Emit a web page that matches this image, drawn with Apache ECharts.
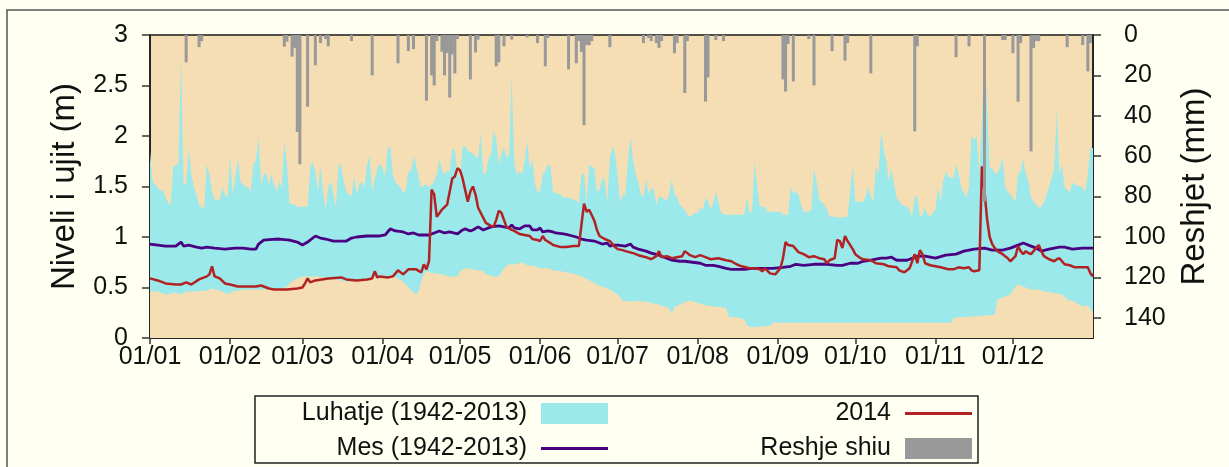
<!DOCTYPE html>
<html>
<head>
<meta charset="utf-8">
<script src="https://cdn.jsdelivr.net/npm/echarts@6/dist/echarts.min.js"></script>
<style>
html, body { margin: 0; padding: 0; background: #fffff2; }
#chart { width: 1229px; height: 467px; }
</style>
</head>
<body>
<div id="chart"></div>
<script>
// day of year (0 = 01/01) and value
var monthDays = [31, 28, 31, 30, 31, 30, 31, 31, 30, 31, 30, 31];

// upper edge of the 1942-2013 range (m)
var bandHigh = [[0,1.85],[1,1.55],[2,1.52],[3,1.49],[4,1.45],[5,1.47],[6,1.39],[7,1.34],[8,1.32],[9,1.70],[10,1.71],[11,1.72],[12,2.77],[13,1.52],[14,1.52],[15,1.88],[16,1.62],[17,1.49],[18,1.42],[19,1.32],[20,1.29],[21,1.29],[22,1.72],[23,1.62],[24,1.45],[25,1.37],[26,1.37],[27,1.37],[28,1.49],[29,1.42],[30,1.39],[31,1.80],[32,1.42],[33,1.58],[34,1.78],[35,1.55],[36,1.52],[37,1.50],[38,1.49],[39,1.45],[40,1.72],[41,1.75],[42,2.00],[43,1.52],[44,1.62],[45,1.63],[46,1.52],[47,1.62],[48,1.52],[49,1.45],[50,1.55],[51,1.49],[52,1.96],[53,1.72],[54,1.34],[55,1.32],[56,1.32],[57,1.30],[58,1.30],[59,1.30],[60,1.30],[61,1.30],[62,1.68],[63,1.75],[64,1.65],[65,1.45],[66,1.70],[67,1.45],[68,1.27],[69,1.50],[70,1.55],[71,1.42],[72,1.29],[73,1.73],[74,1.70],[75,1.55],[76,1.45],[77,1.42],[78,1.40],[79,1.60],[80,1.42],[81,1.52],[82,1.55],[83,1.49],[84,1.72],[85,1.80],[86,1.45],[87,1.57],[88,1.68],[89,1.73],[90,1.68],[91,1.60],[92,1.88],[93,1.90],[94,1.62],[95,1.54],[96,1.52],[97,1.49],[98,1.44],[99,1.46],[100,1.65],[101,1.65],[102,1.80],[103,1.72],[104,1.58],[105,1.49],[106,1.51],[107,1.52],[108,1.49],[109,1.52],[110,1.55],[111,1.62],[112,1.78],[113,1.66],[114,1.62],[115,1.65],[116,1.65],[117,1.88],[118,1.85],[119,1.65],[120,1.58],[121,1.90],[122,1.90],[123,1.85],[124,1.84],[125,1.83],[126,1.80],[127,1.78],[128,2.03],[129,1.62],[130,1.63],[131,1.78],[132,1.81],[133,2.05],[134,1.98],[135,1.72],[136,1.82],[137,1.88],[138,1.80],[139,1.80],[140,2.59],[141,1.72],[142,1.62],[143,1.65],[144,1.62],[145,1.75],[146,1.95],[147,1.68],[148,1.77],[149,1.52],[150,1.45],[151,1.45],[152,1.62],[153,1.65],[154,1.72],[155,1.70],[156,1.45],[157,1.43],[158,1.43],[159,1.42],[160,1.39],[162,1.39],[164,1.37],[166,1.34],[167,1.62],[168,1.63],[169,1.34],[170,1.72],[171,1.70],[172,1.68],[173,1.45],[174,1.47],[175,1.58],[176,1.57],[177,1.34],[178,1.78],[179,1.90],[180,1.82],[181,1.62],[182,1.34],[183,1.42],[184,1.42],[185,1.75],[186,2.00],[187,1.75],[188,1.62],[189,1.55],[190,1.42],[191,1.40],[192,1.58],[193,1.42],[194,1.49],[195,1.47],[196,1.32],[197,1.40],[198,1.39],[200,1.36],[201,1.42],[202,1.58],[203,1.42],[204,1.40],[205,1.32],[207,1.27],[208,1.22],[209,1.20],[211,1.24],[212,1.24],[213,1.29],[214,1.27],[215,1.39],[216,1.35],[217,1.27],[218,1.34],[219,1.45],[220,1.35],[221,1.24],[223,1.22],[226,1.22],[229,1.22],[230,1.22],[231,1.39],[232,1.25],[233,1.24],[234,1.75],[235,1.52],[236,1.30],[238,1.30],[239,1.25],[241,1.25],[244,1.25],[245,1.22],[247,1.22],[248,1.50],[249,1.43],[250,1.45],[251,1.42],[252,1.32],[253,1.25],[255,1.25],[256,1.27],[257,1.68],[258,1.55],[259,1.37],[260,1.35],[261,1.32],[262,1.27],[263,1.20],[265,1.20],[267,1.19],[270,1.20],[271,1.45],[272,1.70],[273,1.35],[275,1.35],[276,1.35],[277,1.40],[278,1.50],[279,1.40],[280,1.35],[281,1.70],[282,1.62],[283,2.05],[284,1.85],[285,1.75],[286,1.55],[287,1.68],[288,1.52],[289,1.39],[291,1.32],[293,1.30],[294,1.27],[295,1.20],[296,1.40],[297,1.40],[298,1.20],[299,1.22],[300,1.29],[301,1.22],[302,1.20],[304,1.27],[305,1.50],[306,1.35],[307,1.55],[308,1.65],[309,1.60],[311,1.58],[312,1.72],[313,1.62],[314,1.49],[316,1.39],[317,1.49],[318,2.01],[319,1.96],[320,1.99],[321,1.62],[322,2.15],[323,2.87],[324,2.28],[325,1.68],[326,1.68],[327,1.63],[328,1.63],[329,1.68],[330,1.80],[331,1.49],[332,1.45],[333,1.42],[335,1.35],[336,1.62],[337,1.65],[338,1.78],[339,1.62],[340,1.55],[341,1.39],[342,1.35],[344,1.29],[345,1.30],[346,1.34],[347,1.42],[349,1.58],[350,1.68],[351,2.28],[352,1.62],[353,1.72],[354,1.49],[356,1.44],[357,1.54],[358,1.52],[360,1.50],[361,1.49],[362,1.44],[363,1.62],[364,1.88],[365,1.88]];

// lower edge of the 1942-2013 range (m)
var bandLow = [[0,0.46],[3,0.46],[6,0.43],[10,0.45],[12,0.43],[14,0.46],[18,0.46],[22,0.47],[24,0.49],[28,0.46],[30,0.43],[32,0.46],[37,0.48],[44,0.48],[51,0.49],[53,0.51],[54,0.54],[56,0.58],[59,0.61],[65,0.61],[72,0.58],[76,0.56],[80,0.56],[85,0.59],[90,0.61],[94,0.61],[96,0.59],[98,0.56],[99,0.53],[100,0.50],[102,0.45],[103,0.43],[104,0.46],[105,0.56],[106,0.63],[107,0.66],[110,0.64],[113,0.63],[116,0.61],[119,0.61],[120,0.66],[122,0.69],[123,0.69],[127,0.67],[129,0.66],[130,0.63],[133,0.61],[135,0.61],[137,0.69],[139,0.73],[141,0.73],[143,0.74],[144,0.75],[146,0.72],[149,0.71],[151,0.69],[154,0.69],[156,0.67],[159,0.66],[163,0.64],[165,0.63],[168,0.60],[171,0.56],[173,0.53],[176,0.50],[178,0.48],[181,0.43],[183,0.37],[186,0.36],[189,0.37],[192,0.36],[194,0.35],[197,0.33],[199,0.31],[201,0.30],[202,0.23],[203,0.31],[205,0.33],[207,0.36],[209,0.37],[212,0.35],[214,0.33],[219,0.31],[223,0.30],[224,0.21],[228,0.20],[230,0.18],[231,0.13],[232,0.11],[235,0.11],[240,0.12],[241,0.15],[310,0.15],[311,0.20],[317,0.21],[323,0.22],[327,0.23],[328,0.38],[330,0.40],[333,0.43],[335,0.51],[336,0.53],[339,0.50],[341,0.48],[344,0.48],[346,0.46],[349,0.45],[353,0.43],[355,0.38],[358,0.36],[361,0.31],[363,0.33],[364,0.28],[365,0.25]];

// mean 1942-2013 (m)
var meanLevel = [[0,0.93],[3,0.92],[6,0.91],[10,0.91],[12,0.95],[13,0.91],[15,0.92],[18,0.90],[20,0.89],[22,0.90],[25,0.89],[29,0.88],[33,0.89],[36,0.89],[39,0.88],[41,0.88],[42,0.93],[44,0.97],[46,0.975],[50,0.98],[54,0.97],[57,0.95],[59,0.92],[61,0.95],[64,1.01],[66,0.99],[68,0.98],[71,0.96],[73,0.96],[76,0.96],[78,0.99],[80,1.00],[84,1.01],[89,1.01],[91,1.02],[93,1.08],[95,1.06],[98,1.05],[100,1.03],[102,1.04],[104,1.02],[108,1.02],[112,1.06],[114,1.04],[116,1.05],[119,1.03],[121,1.07],[122,1.08],[124,1.06],[125,1.07],[127,1.10],[129,1.07],[132,1.10],[135,1.11],[137,1.10],[139,1.09],[140,1.12],[141,1.09],[143,1.08],[145,1.11],[147,1.11],[148,1.07],[150,1.07],[151,1.09],[152,1.05],[154,1.06],[156,1.05],[157,1.04],[160,1.03],[162,1.02],[165,1.00],[167,0.98],[169,0.97],[172,0.96],[174,0.94],[175,0.93],[177,0.94],[178,0.91],[179,0.92],[181,0.92],[184,0.91],[186,0.93],[187,0.90],[189,0.88],[192,0.86],[194,0.84],[197,0.82],[200,0.79],[202,0.77],[205,0.76],[207,0.76],[210,0.75],[213,0.74],[215,0.72],[218,0.72],[220,0.71],[223,0.69],[225,0.68],[228,0.68],[230,0.68],[233,0.69],[236,0.69],[241,0.69],[245,0.70],[248,0.71],[250,0.73],[253,0.72],[257,0.73],[262,0.73],[266,0.72],[268,0.72],[271,0.74],[274,0.74],[276,0.76],[279,0.77],[281,0.78],[283,0.79],[285,0.79],[287,0.80],[289,0.77],[291,0.77],[293,0.77],[295,0.79],[297,0.81],[300,0.81],[304,0.79],[308,0.82],[312,0.83],[315,0.86],[319,0.88],[323,0.89],[326,0.87],[330,0.87],[333,0.89],[336,0.92],[338,0.94],[340,0.92],[343,0.89],[345,0.86],[348,0.88],[350,0.89],[352,0.90],[354,0.90],[357,0.88],[361,0.89],[365,0.89]];

// water level 2014 (m)
var level2014 = [[0,0.59],[3,0.57],[6,0.54],[10,0.53],[12,0.53],[14,0.55],[16,0.53],[19,0.58],[22,0.61],[23,0.63],[24,0.71],[25,0.61],[27,0.59],[29,0.54],[31,0.53],[34,0.51],[37,0.51],[41,0.51],[43,0.52],[46,0.49],[48,0.48],[53,0.48],[57,0.49],[59,0.50],[60,0.54],[61,0.59],[62,0.55],[64,0.57],[69,0.59],[74,0.60],[76,0.58],[80,0.57],[84,0.58],[86,0.59],[87,0.66],[88,0.60],[89,0.61],[92,0.60],[94,0.61],[96,0.67],[98,0.63],[100,0.68],[103,0.68],[105,0.65],[106,0.73],[107,0.68],[108,0.76],[109,1.47],[110,1.42],[111,1.20],[113,1.27],[115,1.32],[117,1.58],[118,1.60],[119,1.68],[120,1.66],[121,1.58],[123,1.35],[124,1.45],[125,1.50],[126,1.42],[127,1.29],[128,1.24],[129,1.19],[130,1.14],[132,1.11],[133,1.10],[134,1.17],[135,1.26],[136,1.24],[137,1.17],[138,1.10],[140,1.07],[141,1.06],[143,1.03],[145,1.02],[147,1.01],[148,0.98],[150,0.97],[151,0.96],[152,1.01],[153,0.97],[155,0.94],[156,0.92],[159,0.90],[161,0.90],[164,0.91],[166,0.91],[167,1.12],[168,1.33],[169,1.25],[170,1.27],[172,1.16],[173,1.07],[174,1.01],[176,0.98],[178,0.96],[179,0.93],[180,0.90],[181,0.88],[183,0.87],[184,0.86],[187,0.84],[189,0.82],[192,0.80],[194,0.78],[196,0.81],[197,0.86],[198,0.80],[200,0.81],[202,0.79],[204,0.80],[206,0.81],[207,0.86],[209,0.82],[211,0.80],[213,0.82],[215,0.80],[217,0.78],[220,0.79],[223,0.77],[225,0.76],[227,0.73],[229,0.71],[232,0.69],[234,0.69],[236,0.68],[237,0.66],[238,0.69],[240,0.64],[242,0.63],[243,0.66],[244,0.69],[245,0.79],[246,0.95],[247,0.92],[249,0.91],[251,0.85],[253,0.83],[255,0.80],[257,0.81],[259,0.79],[261,0.78],[262,0.74],[263,0.77],[264,0.78],[265,0.79],[266,0.97],[267,0.96],[268,0.89],[269,1.01],[270,0.96],[272,0.88],[273,0.83],[275,0.79],[276,0.78],[279,0.77],[281,0.74],[284,0.73],[286,0.71],[289,0.70],[290,0.67],[292,0.65],[294,0.69],[295,0.76],[296,0.83],[297,0.74],[298,0.87],[299,0.83],[300,0.74],[302,0.72],[304,0.71],[306,0.70],[309,0.68],[311,0.68],[313,0.70],[315,0.69],[317,0.70],[318,0.67],[319,0.66],[321,0.67],[322,1.70],[323,1.45],[324,1.18],[325,1.00],[326,0.93],[327,0.89],[328,0.86],[330,0.83],[332,0.79],[333,0.76],[335,0.81],[336,0.91],[337,0.86],[338,0.83],[339,0.86],[340,0.84],[341,0.83],[343,0.89],[344,0.92],[345,0.86],[346,0.81],[348,0.78],[350,0.76],[351,0.78],[352,0.79],[353,0.76],[354,0.73],[356,0.72],[358,0.70],[361,0.70],[363,0.70],[364,0.64],[365,0.61]];

// daily rainfall (mm), right axis
var rain = [[14,13.5],[19,6],[20,3],[52,5.8],[53,3.3],[55,10.7],[56,6.4],[57,48],[58,64],[61,35.5],[64,15],[66,4],[68,2],[69,5.6],[78,3],[86,20],[96,14],[100,8],[102,7],[107,32.5],[109,20],[110,25],[111,3],[113,8.3],[114,20],[115,9],[116,31],[117,9.6],[118,19],[119,2],[124,22],[126,8.6],[127,2.3],[134,15.5],[135,13.5],[137,5.6],[140,2.3],[146,1.2],[150,4],[153,15.5],[154,1.5],[162,17],[165,14],[166,3],[167,8.4],[168,44.7],[169,5],[170,5],[171,3],[178,6],[191,4],[193,1.5],[194,3],[196,4],[197,6.4],[198,3],[203,9],[204,4],[207,28.7],[208,3],[215,33],[216,21],[219,2.5],[222,3],[245,22],[246,28],[247,4.5],[249,23],[255,2],[257,25],[264,8],[269,12.7],[270,4],[279,19],[296,47.7],[297,5.6],[312,11],[317,5.6],[323,82.5],[330,2.5],[331,2.5],[334,9],[336,33],[337,4],[341,57.6],[342,6.4],[343,3],[344,3],[355,6],[361,5],[363,18],[364,4]];

var seriesNames = ['Luhatje (1942-2013)', 'Mes (1942-2013)', '2014', 'Reshje shiu'];

// one category per day, dd/mm, plus 01/01 of next year as the end point
var days = [];
for (var m = 0; m < 12; m++) {
    for (var d = 1; d <= monthDays[m]; d++) {
        days.push((d < 10 ? '0' + d : '' + d) + '/' + (m < 9 ? '0' + (m + 1) : '' + (m + 1)));
    }
}
days.push('01/01');

function isMonthStart(index, value) {
    return index < 365 && value.slice(0, 3) === '01/';
}

var font = '"Liberation Sans", Arial, sans-serif';
var ink = '#111111';
var lineIcon = 'path://M0,0L67,0L67,3L0,3Z';

function legendItem(name, icon, right, top) {
    return {
        data: [{name: name, icon: icon}],
        right: right,
        top: top,
        align: 'right',
        padding: 0,
        itemWidth: 67,
        itemHeight: 21,
        selectedMode: false,
        textStyle: {fontSize: 25, color: ink, fontFamily: font, padding: [0, 9, 0, 0]}
    };
}

function madeChart() {
    var myChart = echarts.init(document.getElementById('chart'));

    var option = {
        backgroundColor: '#fffff2',
        animation: false,
        textStyle: {fontFamily: font},
        grid: {
            left: 150, right: 136, top: 35, bottom: 129,
            show: true,
            backgroundColor: '#f5deb3',
            borderColor: '#1a1a1a',
            borderWidth: 1.5
        },
        legend: [
            legendItem(seriesNames[0], 'rect', 621, 401),
            legendItem(seriesNames[1], lineIcon, 621, 436),
            legendItem(seriesNames[2], lineIcon, 257, 401),
            legendItem(seriesNames[3], 'rect', 257, 436)
        ],
        graphic: [
            {type: 'rect', shape: {x: 7, y: 10, width: 1240, height: 480},
             style: {fill: 'none', stroke: '#555555', lineWidth: 1.5}, silent: true},
            {type: 'rect', shape: {x: 255, y: 396, width: 723, height: 67},
             style: {fill: 'none', stroke: '#222222', lineWidth: 1.5}, silent: true}
        ],
        xAxis: {
            type: 'category',
            data: days,
            boundaryGap: false,
            axisLine: {lineStyle: {color: '#1a1a1a', width: 1.5}},
            axisTick: {interval: isMonthStart, length: 6, lineStyle: {color: '#333333', width: 1.5}},
            axisLabel: {interval: isMonthStart, color: ink, fontSize: 25, margin: 7},
            splitLine: {show: false}
        },
        yAxis: [
            {
                type: 'value', min: 0, max: 3, interval: 0.5,
                name: 'Niveli i ujit (m)', nameLocation: 'middle', nameGap: 69, nameRotate: 90,
                nameTextStyle: {fontSize: 33, color: ink},
                axisLine: {show: true, lineStyle: {color: '#1a1a1a', width: 1.5}},
                axisTick: {show: true, length: 8, lineStyle: {color: '#333333', width: 1.5}},
                axisLabel: {color: ink, fontSize: 25, margin: 22},
                splitLine: {show: false}
            },
            {
                type: 'value', min: 0, max: 150, interval: 20, inverse: true, position: 'right',
                name: 'Reshjet (mm)', nameLocation: 'middle', nameGap: 85, nameRotate: 90,
                nameTextStyle: {fontSize: 33, color: ink},
                axisLine: {show: true, lineStyle: {color: '#1a1a1a', width: 1.5}},
                axisTick: {show: true, length: 8, lineStyle: {color: '#333333', width: 1.5}},
                axisLabel: {color: ink, fontSize: 25, margin: 31, showMaxLabel: false,
                    formatter: function (v) { return v > 140 ? '' : v; }},
                splitLine: {show: false}
            }
        ],
        series: [
            {
                name: seriesNames[0], type: 'line', data: bandHigh, symbol: 'none', z: 1,
                lineStyle: {width: 0}, itemStyle: {color: '#9be9eb'},
                areaStyle: {color: '#9be9eb', opacity: 1}
            },
            {
                name: 'low', type: 'line', data: bandLow, symbol: 'none', z: 2,
                lineStyle: {width: 0}, itemStyle: {color: '#f5deb3'},
                areaStyle: {color: '#f5deb3', opacity: 1}
            },
            {
                name: seriesNames[1], type: 'line', data: meanLevel, symbol: 'none', z: 3,
                lineStyle: {color: '#4b0082', width: 2.8}, itemStyle: {color: '#4b0082'}
            },
            {
                name: seriesNames[2], type: 'line', data: level2014, symbol: 'none', z: 4,
                lineStyle: {color: '#b22222', width: 2.5}, itemStyle: {color: '#b22222'}
            },
            {
                name: seriesNames[3], type: 'bar', yAxisIndex: 1, data: rain, barWidth: 3, z: 5,
                itemStyle: {color: '#999999'}
            }
        ]
    };

    myChart.setOption(option);
}

madeChart();
</script>
</body>
</html>
